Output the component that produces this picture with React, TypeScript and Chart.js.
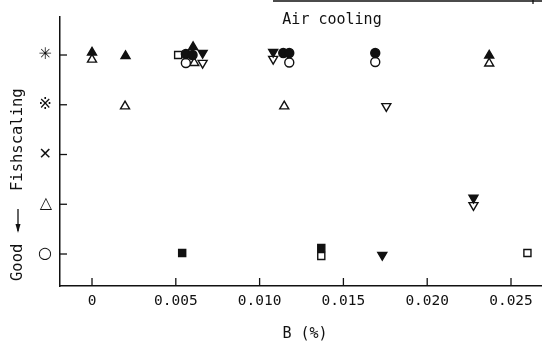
import React, { useEffect, useRef } from "react";
import { Chart, registerables } from "chart.js";
Chart.register(...registerables);

// Axis ticks
const xTicks = [0, 0.005, 0.01, 0.015, 0.02, 0.025];
const xTickLabels = ["0", "0.005", "0.010", "0.015", "0.020", "0.025"];
const yTicks = [0, 1, 2, 3, 4];
const yTickLabels = ["○", "△", "✕", "※", "✳"];

// Series: B (%) and fishscaling rating (0 = ○ good ... 4 = worst)
const filledCircleB = [0.0056, 0.006, 0.01141, 0.01177, 0.0169];
const filledCircleR = [4.02, 4.0, 4.04, 4.04, 4.04];
const openCircleB = [0.0056, 0.01177, 0.0169];
const openCircleR = [3.84, 3.85, 3.86];
const filledTriUpB = [0, 0.002, 0.00603, 0.0237];
const filledTriUpR = [4.05, 3.98, 4.16, 3.99];
const openTriUpB = [0, 0.0061, 0.0237, 0.00197, 0.01147];
const openTriUpR = [3.91, 3.84, 3.83, 2.97, 2.97];
const filledTriDownB = [0.0066, 0.01081, 0.02276, 0.01732];
const filledTriDownR = [4.04, 4.06, 1.13, -0.02];
const openTriDownB = [0.0066, 0.01081, 0.01756, 0.02276];
const openTriDownR = [3.84, 3.92, 2.97, 0.98];
const filledSquareB = [0.00538, 0.01368];
const filledSquareR = [0.02, 0.12];
const openSquareB = [0.00514, 0.01368, 0.02598];
const openSquareR = [4.0, -0.04, 0.02];

const xTitle = "B (%)";
const yTitleA = "Good";
const yTitleB = "Fishscaling";
const panelLabel = "Air cooling";

const zip = (xs: number[], ys: number[]) => xs.map((x, i) => ({ x, y: ys[i] }));

const MONO = '"DejaVu Sans Mono", monospace';

const decorPlugin = {
  id: "decor",
  afterDraw(chart: any) {
    const { ctx, chartArea, scales } = chart;
    const xs = scales.x;
    const ys = scales.y;
    ctx.save();
    ctx.strokeStyle = "#111";
    ctx.lineWidth = 1.3;
    // inward ticks
    yTicks.forEach((v) => {
      const p = ys.getPixelForValue(v);
      ctx.beginPath();
      ctx.moveTo(chartArea.left, p);
      ctx.lineTo(chartArea.left + 7, p);
      ctx.stroke();
    });
    xTicks.forEach((v) => {
      const p = xs.getPixelForValue(v);
      ctx.beginPath();
      ctx.moveTo(p, chartArea.bottom);
      ctx.lineTo(p, chartArea.bottom - 8);
      ctx.stroke();
    });
    // top partial box line
    ctx.beginPath();
    ctx.moveTo(273, 1);
    ctx.lineTo(542, 1);
    ctx.moveTo(533, 0);
    ctx.lineTo(533, 4);
    ctx.stroke();

    ctx.fillStyle = "#111";
    ctx.textBaseline = "middle";
    // panel label
    ctx.font = `15px ${MONO}`;
    ctx.textAlign = "center";
    ctx.fillText(panelLabel, 332, 20);
    // x title
    ctx.font = `15px ${MONO}`;
    ctx.fillText(xTitle, 305, 334);
    // y title rotated (reads bottom to top)
    ctx.save();
    ctx.translate(18, 0);
    ctx.rotate(-Math.PI / 2);
    ctx.font = `15.5px ${MONO}`;
    ctx.textAlign = "left";
    ctx.fillText(yTitleA, -281, 0);
    ctx.fillText(yTitleB, -191, 0);
    ctx.restore();
    // arrow (pointing down toward "Good")
    ctx.beginPath();
    ctx.moveTo(18, 209);
    ctx.lineTo(18, 231);
    ctx.stroke();
    ctx.beginPath();
    ctx.moveTo(15.5, 224);
    ctx.lineTo(18, 233);
    ctx.lineTo(20.5, 224);
    ctx.closePath();
    ctx.fill();
    ctx.restore();
  },
};

export default function App() {
  const ref = useRef<HTMLCanvasElement>(null);
  useEffect(() => {
    document.body.style.margin = "0";
    const filled = "#111";
    const open = "#fff";
    const mk = (label: string, data: any[], style: string, fill: string, r: number, rot = 0) => ({
      label,
      data,
      pointStyle: style,
      pointRadius: r,
      pointRotation: rot,
      pointBackgroundColor: fill,
      pointBorderColor: "#111",
      pointBorderWidth: 1.4,
      showLine: false,
    });
    const chart = new Chart(ref.current!, {
      type: "scatter",
      data: {
        datasets: [
          mk("filledCircle", zip(filledCircleB, filledCircleR), "circle", filled, 4.5),
          mk("filledTriUp", zip(filledTriUpB, filledTriUpR), "triangle", filled, 5.2),
          mk("filledTriDown", zip(filledTriDownB, filledTriDownR), "triangle", filled, 5.2, 180),
          mk("filledSquare", zip(filledSquareB, filledSquareR), "rect", filled, 5),
          mk("openCircle", zip(openCircleB, openCircleR), "circle", open, 4.5),
          mk("openTriUp", zip(openTriUpB, openTriUpR), "triangle", open, 5.2),
          mk("openTriDown", zip(openTriDownB, openTriDownR), "triangle", open, 5.2, 180),
          mk("openSquare", zip(openSquareB, openSquareR), "rect", open, 5),
        ] as any,
      },
      options: {
        animation: false,
        responsive: false,
        layout: { autoPadding: false, padding: { top: 17, right: 1, left: 0, bottom: 0 } },
        plugins: { legend: { display: false }, tooltip: { enabled: false } },
        scales: {
          x: {
            type: "linear",
            min: -0.00191,
            max: 0.02679,
            afterFit: (s: any) => { s.height = 55; s.paddingLeft = 0; s.paddingRight = 0; },
            afterBuildTicks: (s: any) => { s.ticks = xTicks.map((v) => ({ value: v })); },
            ticks: {
              padding: 7,
              color: "#111",
              font: { family: MONO, size: 14.5 },
              callback: (v: any) => {
                const i = xTicks.findIndex((t) => Math.abs(t - Number(v)) < 1e-9);
                return i >= 0 ? xTickLabels[i] : "";
              },
            },
            grid: { display: true, drawOnChartArea: false, drawTicks: false },
            border: { display: true, color: "#111", width: 1.5 },
          },
          y: {
            type: "linear",
            min: -0.643,
            max: 4.764,
            afterFit: (s: any) => { s.width = 60; s.paddingTop = 0; s.paddingBottom = 0; },
            afterBuildTicks: (s: any) => { s.ticks = yTicks.map((v) => ({ value: v })); },
            ticks: {
              padding: 8,
              color: "#111",
              font: { family: '"DejaVu Sans", sans-serif', size: 16 },
              callback: (v: any) => {
                const i = yTicks.indexOf(Number(v));
                return i >= 0 ? yTickLabels[i] : "";
              },
            },
            grid: { display: true, drawOnChartArea: false, drawTicks: false },
            border: { display: true, color: "#111", width: 1.5 },
          },
        },
      },
      plugins: [decorPlugin],
    });
    return () => chart.destroy();
  }, []);
  return (
    <div style={{ width: 542, height: 341 }}>
      <canvas ref={ref} width={542} height={341} style={{ display: "block" }} />
    </div>
  );
}
